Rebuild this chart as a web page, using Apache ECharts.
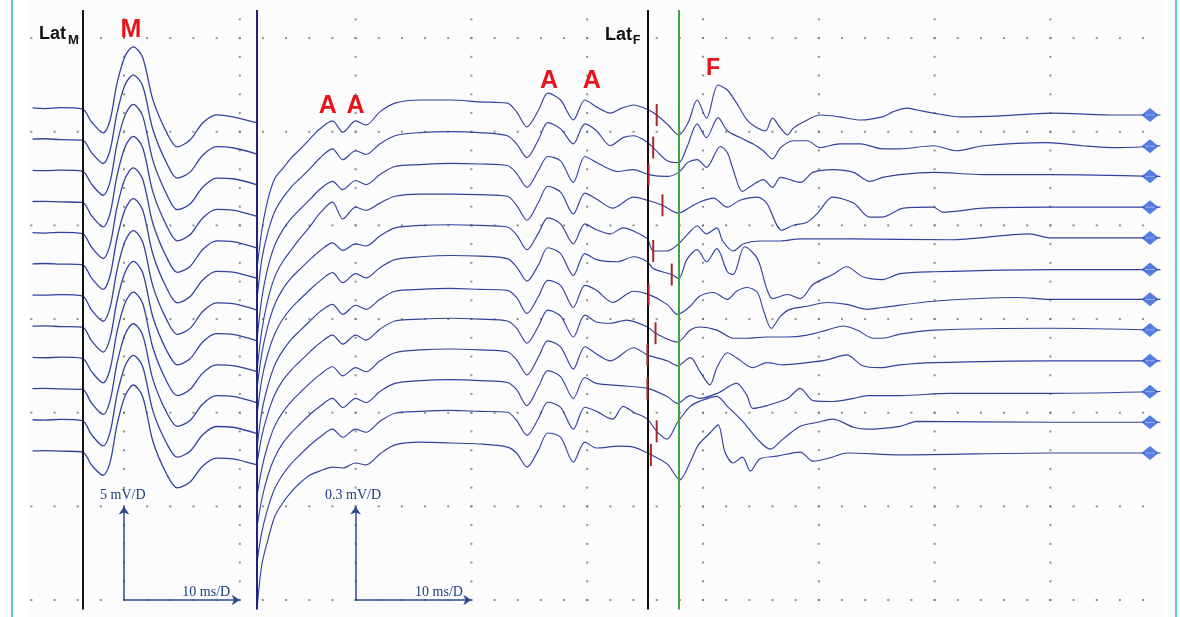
<!DOCTYPE html>
<html><head><meta charset="utf-8">
<script src="https://cdn.jsdelivr.net/npm/echarts/dist/echarts.min.js"></script>
<style>html,body{margin:0;padding:0;background:#fff}#c{width:1180px;height:617px}</style>
</head><body><div id="c"></div>
<script>
// ---------------- DATA ----------------
// M-wave panel (5 mV/D): sample times (ms) and values (mV) of 12 consecutive responses
const mTimes = [2.1, 3.2, 4.5, 6.4, 7.2, 8.2, 8.8, 9.4, 10.1, 10.8, 11.6, 12.5, 13.7, 14.6, 15.7, 16.8, 18.0, 19.4, 21.5];
const m1  = [0, -0.03, 0.02, -0.05, -0.75, -1.33, -0.64, 1.33, 2.78, 3.26, 2.72, 0.43, -1.33, -2.08, -1.71, -0.80, -0.37, -0.48, -0.80];
const m2  = [0, 0.02, -0.03, -0.05, -0.72, -1.30, -0.58, 1.40, 2.92, 3.42, 2.86, 0.50, -1.30, -2.08, -1.76, -0.86, -0.40, -0.46, -0.80];
const m3  = [0, -0.02, 0.01, -0.04, -0.74, -1.33, -0.60, 1.42, 2.96, 3.52, 2.92, 0.52, -1.30, -2.10, -1.80, -0.90, -0.42, -0.45, -0.78];
const m4  = [0, 0.01, -0.02, -0.05, -0.76, -1.36, -0.62, 1.38, 2.92, 3.48, 2.90, 0.50, -1.32, -2.10, -1.78, -0.88, -0.42, -0.46, -0.80];
const m5  = [0, -0.02, 0.02, -0.05, -0.78, -1.38, -0.64, 1.36, 2.90, 3.46, 2.88, 0.48, -1.34, -2.12, -1.80, -0.90, -0.44, -0.48, -0.82];
const m6  = [0, 0.02, -0.01, -0.04, -0.76, -1.36, -0.62, 1.38, 2.92, 3.48, 2.90, 0.50, -1.32, -2.08, -1.76, -0.86, -0.40, -0.44, -0.78];
const m7  = [0, -0.01, 0.02, -0.05, -0.80, -1.40, -0.66, 1.34, 2.88, 3.44, 2.86, 0.46, -1.34, -2.10, -1.78, -0.88, -0.42, -0.46, -0.80];
const m8  = [0, 0.02, -0.02, -0.05, -0.78, -1.38, -0.64, 1.36, 2.90, 3.46, 2.88, 0.48, -1.32, -2.06, -1.74, -0.84, -0.40, -0.44, -0.78];
const m9  = [0, -0.02, 0.01, -0.05, -0.76, -1.36, -0.62, 1.38, 2.92, 3.48, 2.90, 0.50, -1.30, -2.04, -1.72, -0.84, -0.40, -0.44, -0.76];
const m10 = [0, 0.01, -0.02, -0.04, -0.78, -1.38, -0.64, 1.36, 2.90, 3.46, 2.88, 0.48, -1.30, -2.02, -1.70, -0.82, -0.38, -0.42, -0.76];
const m11 = [0, -0.02, 0.02, -0.05, -0.80, -1.40, -0.66, 1.34, 2.88, 3.44, 2.86, 0.46, -1.28, -2.00, -1.68, -0.80, -0.36, -0.40, -0.74];
const m12 = [0, 0.02, -0.01, -0.05, -0.76, -1.30, -0.60, 1.40, 2.94, 3.52, 2.92, 0.50, -1.26, -1.97, -1.66, -0.80, -0.38, -0.42, -0.75];
const mTraces = [m1, m2, m3, m4, m5, m6, m7, m8, m9, m10, m11, m12];

// F-wave panel (0.3 mV/D): common early part (times ms, values µV) ...
const fPreTimes = [21.5, 21.9, 22.4, 23.0, 23.7, 24.5, 25.2, 26.1, 26.9, 28.0, 28.9, 30.0, 30.9, 32.1, 33.4, 35.6, 38.2, 40.7, 43.1, 43.9, 44.8, 45.8, 46.6, 47.7, 48.8, 49.8, 50.8];
const f1pre  = [-490,-370,-275,-205,-172,-135,-110,-75,-45,-19,-55,-19,-32,10,38,48,48,42,38,10,-38,16,70,48,-16,48,26];
const f2pre  = [-488,-365,-280,-212,-168,-130,-105,-72,-40,-10,-45,-16,-28,6,32,42,45,42,32,6,-38,20,74,54,6,70,48];
const f3pre  = [-520,-390,-295,-222,-172,-132,-105,-72,-42,-16,-42,-13,-26,6,32,38,42,40,35,10,-35,20,64,50,-19,64,45];
const f4pre  = [-520,-395,-300,-225,-175,-134,-100,-60,-20,16,-38,0,-10,13,35,42,42,40,35,6,-42,16,67,48,-22,45,26];
const f5pre  = [-480,-370,-285,-215,-165,-126,-100,-68,-42,-16,-40,-19,-26,6,32,40,42,40,35,10,-38,16,64,45,-19,45,26];
const f6pre  = [-465,-355,-275,-210,-162,-124,-98,-66,-40,-13,-45,-16,-30,3,29,38,42,40,32,6,-40,13,67,48,-22,48,29];
const f7pre  = [-470,-360,-280,-212,-165,-126,-100,-68,-40,-16,-48,-19,-32,0,26,32,35,32,29,6,-45,10,61,45,-26,45,29];
const f8pre  = [-425,-340,-270,-208,-162,-126,-100,-68,-42,-16,-45,-16,-32,3,29,35,38,35,29,6,-42,13,64,45,-22,48,26];
const f9pre  = [-430,-345,-272,-210,-165,-128,-102,-70,-45,-19,-48,-22,-35,0,26,35,38,35,29,3,-45,13,64,45,-26,45,22];
const f10pre = [-430,-345,-272,-212,-166,-130,-104,-72,-48,-22,-51,-22,-35,0,26,35,38,35,29,6,-45,16,67,48,-22,45,26];
const f11pre = [-445,-352,-278,-214,-168,-130,-104,-72,-48,-22,-48,-22,-32,3,29,35,38,35,32,6,-42,13,64,48,-22,48,35];
const f12pre = [-493,-358,-282,-205,-160,-122,-96,-70,-58,-45,-48,-32,-38,-3,26,35,32,29,19,0,-45,10,64,51,-29,35,16];
const fPre = [f1pre, f2pre, f3pre, f4pre, f5pre, f6pre, f7pre, f8pre, f9pre, f10pre, f11pre, f12pre];

// ... and each response's late part [ms, µV] (F-waves and tail)
const f1post = [[52.0,6],[53.0,22],[54.0,32],[55.3,16],[56.0,0],[57.0,-32],[57.9,-64],[58.7,-26],[59.5,48],[60.3,-10],[61.3,96],[62.1,80],[62.9,38],[63.8,-16],[64.7,-42],[65.4,-51],[66.0,-10],[66.7,-42],[67.3,-64],[67.8,-42],[69.0,-16],[70.1,0],[71.8,-6],[73.6,-16],[75.5,-6],[76.4,10],[77.6,22],[78.5,16],[79.9,6],[82.2,-6],[85.7,-3],[90.0,6],[95.8,0],[99.5,0]];
const f2post = [[52.0,0],[53.1,26],[54.0,32],[55.0,16],[55.7,-6],[56.9,-48],[57.9,-54],[58.6,-6],[59.5,70],[60.3,26],[61.3,90],[62.1,48],[63.2,26],[64.3,6],[65.2,-16],[66.0,-42],[66.7,-6],[67.8,16],[69.0,16],[70.1,-6],[71.8,6],[73.6,6],[75.5,-10],[77.0,-10],[79.9,0],[81.9,-16],[84.2,0],[89.7,10],[92.8,0],[95.8,-6],[99.5,0]];
const f3post = [[52.0,22],[52.6,16],[54.0,22],[55.3,6],[56.9,0],[57.9,13],[58.7,45],[59.5,54],[60.3,29],[61.5,96],[62.1,77],[62.6,22],[63.4,-48],[64.1,-32],[65.2,-10],[66.0,-35],[66.7,-3],[68.4,-19],[69.5,13],[71.2,22],[73.0,13],[74.4,-16],[75.5,-3],[77.0,6],[79.9,13],[84.2,6],[90.0,6],[99.5,0]];
const f4post = [[52.2,-3],[54.0,32],[55.2,22],[56.5,6],[57.9,-19],[58.9,0],[59.7,16],[60.9,29],[62.1,0],[63.2,22],[64.7,32],[65.5,13],[66.8,-74],[67.8,-58],[69.0,-48],[69.9,-19],[71.2,32],[73.0,13],[74.4,-32],[75.5,-32],[77.3,-3],[79.9,0],[80.7,-16],[84.2,-3],[90.0,0],[99.5,0]];
const f5post = [[52.0,13],[53.1,32],[54.0,22],[55.2,-3],[55.7,-42],[56.9,-42],[57.9,-19],[58.7,13],[59.5,38],[60.3,13],[61.2,32],[61.7,-10],[62.6,-42],[63.5,-19],[64.9,-10],[66.7,-10],[68.4,-3],[72.7,-3],[81.3,-6],[88.2,13],[90.0,0],[99.5,0]];
const f6post = [[52.6,22],[54.0,38],[55.2,22],[55.7,0],[57.3,-19],[57.9,-32],[58.6,29],[59.5,61],[60.3,22],[61.2,64],[62.1,-10],[62.6,-19],[63.6,70],[64.7,32],[65.5,-64],[66.0,-96],[67.3,-83],[68.4,-96],[69.5,-51],[71.2,-19],[72.4,6],[73.8,-26],[75.5,-35],[77.0,-16],[79.9,-10],[90.0,-3],[99.5,-3]];
const f7post = [[52.2,-10],[54.0,26],[55.3,16],[56.9,-16],[57.8,-48],[58.9,-22],[59.7,10],[60.9,22],[62.1,0],[62.9,26],[63.8,38],[64.7,22],[65.2,-32],[65.9,-93],[66.7,-54],[67.5,-32],[69.0,-22],[70.7,-10],[72.4,-16],[74.2,-32],[75.5,-26],[79.9,-6],[87.1,6],[90.0,0],[99.5,0]];
const f8post = [[52.0,22],[53.4,32],[55.2,10],[55.9,-10],[57.8,-38],[58.9,0],[59.7,10],[61.2,0],[62.6,-26],[63.8,-26],[65.5,-22],[67.3,-22],[69.0,-16],[70.7,0],[72.1,13],[73.3,0],[74.7,-26],[75.5,-26],[77.0,-13],[79.9,0],[90.0,6],[99.5,0]];
const f9post = [[52.0,0],[54.0,42],[55.2,19],[56.9,0],[57.8,-16],[58.9,10],[59.7,-32],[60.6,-77],[61.2,-22],[62.1,26],[62.9,10],[64.3,-22],[65.5,-6],[66.9,-13],[69.0,-6],[70.7,3],[72.4,19],[73.8,-16],[75.3,-22],[77.0,-13],[79.9,-6],[90.0,0],[99.5,0]];
const f10post = [[52.8,19],[55.2,10],[56.9,-16],[57.8,-38],[58.9,-13],[59.7,-22],[61.2,-6],[62.9,26],[63.8,-13],[64.3,-54],[65.5,-45],[67.3,-22],[68.4,10],[69.5,-29],[71.2,-32],[73.0,-22],[74.2,-13],[77.0,-13],[81.3,-6],[90.0,-6],[99.5,0]];
const f11post = [[52.2,10],[53.1,51],[54.0,32],[55.2,10],[56.0,-29],[56.9,-54],[57.8,0],[58.9,51],[59.7,67],[61.2,83],[62.1,51],[63.5,0],[64.7,-54],[65.8,-86],[66.9,-54],[68.4,-13],[69.9,0],[71.2,10],[73.0,-16],[74.2,-22],[77.0,-13],[78.5,3],[90.0,0],[99.5,0]];
const f12post = [[52.8,22],[54.0,19],[55.2,0],[56.9,-35],[58.0,-86],[58.9,-29],[59.6,26],[60.6,64],[61.3,90],[61.9,3],[62.6,-32],[63.4,-13],[64.1,-58],[64.9,-19],[66.4,-10],[68.4,3],[69.5,-26],[71.2,-13],[72.4,0],[77.0,-6],[90.0,0],[99.5,0]];
const fPost = [f1post, f2post, f3post, f4post, f5post, f6post, f7post, f8post, f9post, f10post, f11post, f12post];

// F latency markers (ms), one per response
const fLatency = [56.0, 55.7, 55.3, 56.5, 55.7, 57.3, 55.3, 55.9, 55.2, 55.2, 56.0, 55.5];
// cursors (ms)
const latM = 6.4, panelSplit = 21.5, latF = 55.25, cursorF = 57.9, endMarker = 98.6;
// sensitivities (per division)
const M_SENS = 5;     // mV/D
const F_SENS = 300;   // µV/D  (0.3 mV/D)
// grid divisions
const gridXTicks = [10, 20, 30, 40, 50, 60, 70, 80, 90];
const gridYTicks = [0, 1, 2, 3, 4, 5, 6];

// ---------------- LAYOUT ----------------
const M_BASE0 = 5.254, M_STEP = 0.3329, F_BASE0 = 5.179, F_STEP = 0.3281;
const mBase = i => M_BASE0 - i * M_STEP;
const fBase = i => F_BASE0 - i * F_STEP;
const TRACE = '#33429a';

function interp(arr, t) {
  for (let k = 1; k < arr.length; k++) {
    if (arr[k][0] >= t) {
      const a = arr[k-1], b = arr[k];
      const r = (t - a[0]) / (b[0] - a[0]);
      return a[1] + r * (b[1] - a[1]);
    }
  }
  return arr[arr.length-1][1];
}

const fTraces = fPre.map((vals, i) => fPreTimes.map((t, k) => [t, vals[k]]).concat(fPost[i]));

const chart = echarts.init(document.getElementById('c'));
const series = [];

// dotted division grid
const dots = [];
gridYTicks.forEach(y => { for (let x = 2; x <= 98.01; x += 2) dots.push([x, y]); });
gridXTicks.forEach(x => { for (let k = 0; k <= 31; k++) dots.push([x, +(k * 0.2).toFixed(2)]); });
series.push({ type: 'scatter', data: dots, symbol: 'rect', symbolSize: 2, itemStyle: { color: '#747474' }, silent: true, z: 1 });

// M traces
mTraces.forEach((vals, i) => series.push({
  type: 'line', data: mTimes.map((t, k) => [t, mBase(i) + vals[k] / M_SENS]),
  showSymbol: false, smooth: 0.3, silent: true, z: 3,
  lineStyle: { color: TRACE, width: 1.3 }
}));
// F traces
fTraces.forEach((tr, i) => series.push({
  type: 'line', data: tr.map(p => [p[0], fBase(i) + p[1] / F_SENS]),
  showSymbol: false, smooth: 0.3, silent: true, z: 3,
  lineStyle: { color: TRACE, width: 1.15 }
}));

// cursors
series.push({
  type: 'line', data: [], silent: true, z: 5,
  markLine: { silent: true, symbol: 'none', label: { show: false }, animation: false, data: [
    { xAxis: latM, lineStyle: { color: '#111', width: 2, type: 'solid' } },
    { xAxis: panelSplit, lineStyle: { color: '#22227a', width: 2, type: 'solid' } },
    { xAxis: latF, lineStyle: { color: '#111', width: 2, type: 'solid' } },
    { xAxis: cursorF, lineStyle: { color: '#3ea43e', width: 2, type: 'solid' } }
  ]}
});

// scale bars
series.push({
  type: 'line', data: [], silent: true, z: 5,
  markLine: { silent: true, symbol: ['none', 'arrow'], symbolSize: 8, label: { show: false }, animation: false,
    lineStyle: { color: '#2a4a8e', width: 1.5, type: 'solid' },
    data: [
      [{ coord: [10, 0] }, { coord: [10, 1] }],
      [{ coord: [10, 0] }, { coord: [20, 0] }],
      [{ coord: [30, 0] }, { coord: [30, 1] }],
      [{ coord: [30, 0] }, { coord: [40, 0] }]
    ]}
});

// end markers
const endPts = fTraces.map((tr, i) => [endMarker, fBase(i) + interp(tr, endMarker) / F_SENS]);
series.push({ type: 'scatter', data: endPts, symbol: 'diamond', symbolSize: [17, 14], itemStyle: { color: '#2a5bd7' }, silent: true, z: 6 });
series.push({ type: 'scatter', data: endPts, symbol: 'rect', symbolSize: [10, 1], itemStyle: { color: '#c9d6fb' }, silent: true, z: 7 });

// latency ticks
const tickData = fTraces.map((tr, i) => [fLatency[i], fBase(i) + interp(tr, fLatency[i]) / F_SENS]);
series.push({
  type: 'custom', data: tickData, silent: true, z: 8,
  renderItem: (params, api) => {
    const p = api.coord([api.value(0), api.value(1)]);
    return { type: 'line', shape: { x1: p[0], y1: p[1] - 11, x2: p[0], y2: p[1] + 11 }, style: { stroke: '#a3282c', lineWidth: 2 } };
  }
});

chart.setOption({
  animation: false,
  backgroundColor: '#ffffff',
  grid: { left: 8.2, width: 1158, top: 10, height: 599.4 },
  xAxis: { type: 'value', min: 0, max: 100, show: false },
  yAxis: { type: 'value', min: -0.1, max: 6.3, show: false },
  series: series
});

// annotations placed in data coordinates
const notes = [
  { t: 'Lat', at: [2.66, 6.04], font: 'bold 18px "Liberation Sans", Arial', fill: '#111', align: 'left' },
  { t: 'M', at: [5.16, 5.98], font: 'bold 13px "Liberation Sans", Arial', fill: '#111', align: 'left' },
  { t: 'M', at: [10.6, 6.08], font: 'bold 25px "Liberation Sans", Arial', fill: '#e8141c', align: 'center' },
  { t: 'A', at: [27.6, 5.27], font: 'bold 25px "Liberation Sans", Arial', fill: '#e8141c', align: 'center' },
  { t: 'A', at: [30.0, 5.27], font: 'bold 25px "Liberation Sans", Arial', fill: '#e8141c', align: 'center' },
  { t: 'A', at: [46.7, 5.54], font: 'bold 25px "Liberation Sans", Arial', fill: '#e8141c', align: 'center' },
  { t: 'A', at: [50.4, 5.54], font: 'bold 25px "Liberation Sans", Arial', fill: '#e8141c', align: 'center' },
  { t: 'F', at: [60.86, 5.67], font: 'bold 23px "Liberation Sans", Arial', fill: '#e8141c', align: 'center' },
  { t: 'Lat', at: [51.54, 6.03], font: 'bold 18px "Liberation Sans", Arial', fill: '#111', align: 'left' },
  { t: 'F', at: [53.96, 5.97], font: 'bold 12px "Liberation Sans", Arial', fill: '#111', align: 'left' },
  { t: '5 mV/D', at: [7.93, 1.12], font: '14px "Liberation Serif", "Times New Roman", serif', fill: '#1d3d7d', align: 'left' },
  { t: '10 ms/D', at: [19.17, 0.085], font: '14px "Liberation Serif", "Times New Roman", serif', fill: '#1d3d7d', align: 'right' },
  { t: '0.3 mV/D', at: [27.36, 1.12], font: '14px "Liberation Serif", "Times New Roman", serif', fill: '#1d3d7d', align: 'left' },
  { t: '10 ms/D', at: [39.27, 0.085], font: '14px "Liberation Serif", "Times New Roman", serif', fill: '#1d3d7d', align: 'right' }
];
const graphic = [
  { type: 'rect', shape: { x: 28, y: 0, width: 1134, height: 617 }, style: { fill: '#fcfcfc' }, z: -10, silent: true },
  { type: 'line', shape: { x1: 12, y1: 0, x2: 12, y2: 617 }, style: { stroke: '#5ec8da', lineWidth: 2 }, silent: true },
  { type: 'line', shape: { x1: 1176, y1: 0, x2: 1176, y2: 617 }, style: { stroke: '#5ec8da', lineWidth: 2 }, silent: true }
];
notes.forEach(n => {
  const p = chart.convertToPixel({ gridIndex: 0 }, n.at);
  graphic.push({ type: 'text', x: p[0], y: p[1], silent: true, z: 20,
    style: { text: n.t, font: n.font, fill: n.fill, align: n.align, verticalAlign: 'middle', textAlign: n.align, textVerticalAlign: 'middle' } });
});
chart.setOption({ graphic: graphic });
</script></body></html>
